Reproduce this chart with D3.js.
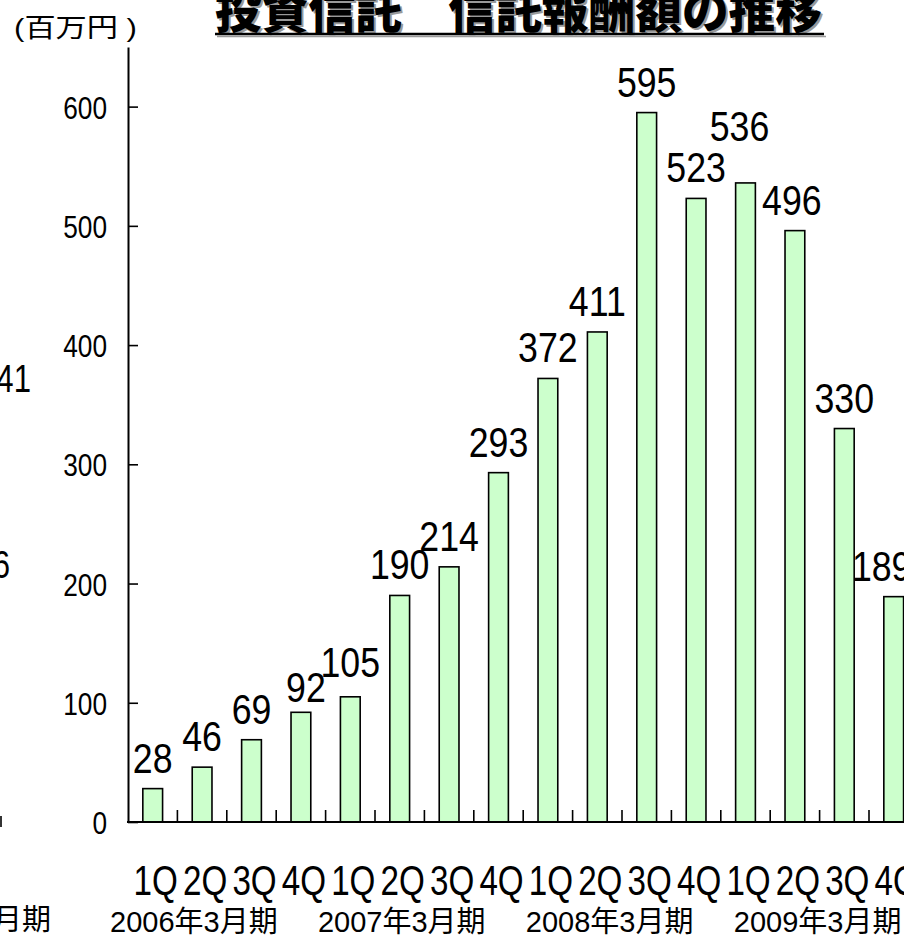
<!DOCTYPE html>
<html><head><meta charset="utf-8">
<script src="https://cdn.jsdelivr.net/npm/d3@7"></script>
<style>body{margin:0;background:#fff}svg{display:block}</style>
</head><body><svg id="c" width="904" height="936"></svg>
<script>
const quarters = ["1Q","2Q","3Q","4Q"];
const fiscalYears = ["2006年3月期","2007年3月期","2008年3月期","2009年3月期"];
const values = [28,46,69,92,105,190,214,293,372,411,595,523,536,496,330,189];
const yTicks = [0,100,200,300,400,500,600];
const titleText = "投資信託　信託報酬額の推移";
const unitText = "(百万円 )";
const neighbourFragments = ["41","6","月期"];

// layout: hand-placed label nudges seen in the source (index -> [dx, dy])
const labelNudge = {3:[5,6], 4:[0,-4], 12:[-6,-26], 13:[-3,0], 15:[-12,0]};

const cats = values.map((v,i)=>({id:i, q:quarters[i%4], v}));
const svg = d3.select("#c");
const LAT = "'Liberation Sans', Arial, 'Noto Sans CJK JP', sans-serif";
const CJK = "'Liberation Sans', 'Noto Sans CJK JP', sans-serif";

const x = d3.scaleBand().domain(cats.map(d=>d.id)).range([128, 918.4]).paddingInner(0.6).paddingOuter(0.3);
const y = d3.scaleLinear().domain([0,650]).range([822,47]);

function place(sel, px, py, sx){ return sel.attr("transform", `translate(${px},${py}) scale(${sx},1)`); }

// title
const tg = svg.append("g");
tg.append("text").attr("x",217).attr("y",30).attr("font-family","'Noto Sans CJK JP', sans-serif")
  .attr("font-weight",900).attr("font-size",48).attr("fill","#999").text(titleText)
  .attr("textLength",607).attr("lengthAdjust","spacingAndGlyphs");
tg.append("text").attr("x",215).attr("y",28).attr("font-family","'Noto Sans CJK JP', sans-serif")
  .attr("font-weight",900).attr("font-size",48).attr("fill","#000").text(titleText)
  .attr("textLength",607).attr("lengthAdjust","spacingAndGlyphs");
tg.append("line").attr("x1",217).attr("x2",826).attr("y1",36.5).attr("y2",36.5).attr("stroke","#999").attr("stroke-width",1.5);
tg.append("line").attr("x1",215).attr("x2",824).attr("y1",34).attr("y2",34).attr("stroke","#000").attr("stroke-width",2.5);

// unit
place(svg.append("text"), 14, 37, 1.2).attr("font-family",CJK).attr("font-size",26).text(unitText);

// bars
svg.append("g").selectAll("rect").data(cats).join("rect")
  .attr("x", d=>x(d.id)).attr("width", x.bandwidth())
  .attr("y", d=>y(d.v)).attr("height", d=>y(0)-y(d.v))
  .attr("fill","#ccffcc").attr("stroke","#000").attr("stroke-width",1.6);

// y axis
const ya = svg.append("g").attr("transform","translate(128,0)")
  .call(d3.axisLeft(y).tickValues(yTicks).tickSizeInner(-10).tickSizeOuter(0).tickPadding(0));
ya.select(".domain").attr("stroke","#000").attr("stroke-width",2);
ya.selectAll(".tick line").attr("stroke","#000").attr("stroke-width",1.6);
ya.selectAll(".tick text").attr("x",null).attr("dy","0.36em").attr("font-family",LAT).attr("font-size",32)
  .attr("fill","#000").attr("text-anchor","end").attr("transform","translate(-21,0) scale(0.82,1)");

// x axis baseline & category ticks
svg.append("line").attr("x1",127).attr("x2",918).attr("y1",y(0)).attr("y2",y(0)).attr("stroke","#000").attr("stroke-width",2.2);
const half = x.step()*x.paddingInner()/2;
svg.append("g").selectAll("line").data(cats).join("line")
  .attr("x1", d=>x(d.id)+x.bandwidth()+half).attr("x2", d=>x(d.id)+x.bandwidth()+half)
  .attr("y1", y(0)).attr("y2", y(0)-12).attr("stroke","#000").attr("stroke-width",1.6);

// value labels
svg.append("g").selectAll("text").data(cats).join("text")
  .each(function(d){
    const n = labelNudge[d.id] || [0,0];
    place(d3.select(this), x(d.id)+x.bandwidth()/2+n[0], y(d.v)-16+n[1], 0.85);
  })
  .attr("text-anchor","middle").attr("font-family",LAT).attr("font-size",42).attr("fill","#000")
  .text(d=>d.v);

// quarter labels
svg.append("g").selectAll("text").data(cats).join("text")
  .each(function(d){ place(d3.select(this), x(d.id)+x.bandwidth()/2+3, 895, 0.79); })
  .attr("text-anchor","middle").attr("font-family",LAT).attr("font-size",42).attr("fill","#000")
  .text(d=>d.q);

// fiscal year labels (one text run, as in the source)
svg.append("text").attr("x",110).attr("y",932).attr("font-family",CJK).attr("font-size",29)
  .attr("xml:space","preserve").style("white-space","pre")
  .text(fiscalYears.join("     "));

// fragments of the neighbouring chart at the left edge
place(svg.append("text"),31,392,0.82).attr("text-anchor","end").attr("font-family",LAT).attr("font-size",38).text(neighbourFragments[0]);
place(svg.append("text"),10,578,0.82).attr("text-anchor","end").attr("font-family",LAT).attr("font-size",38).text(neighbourFragments[1]);
svg.append("text").attr("x",51).attr("y",930).attr("text-anchor","end").attr("font-family",CJK).attr("font-size",29).text(neighbourFragments[2]);
svg.append("line").attr("x1",1).attr("x2",1).attr("y1",816).attr("y2",827).attr("stroke","#000").attr("stroke-width",1.6);
</script></body></html>
